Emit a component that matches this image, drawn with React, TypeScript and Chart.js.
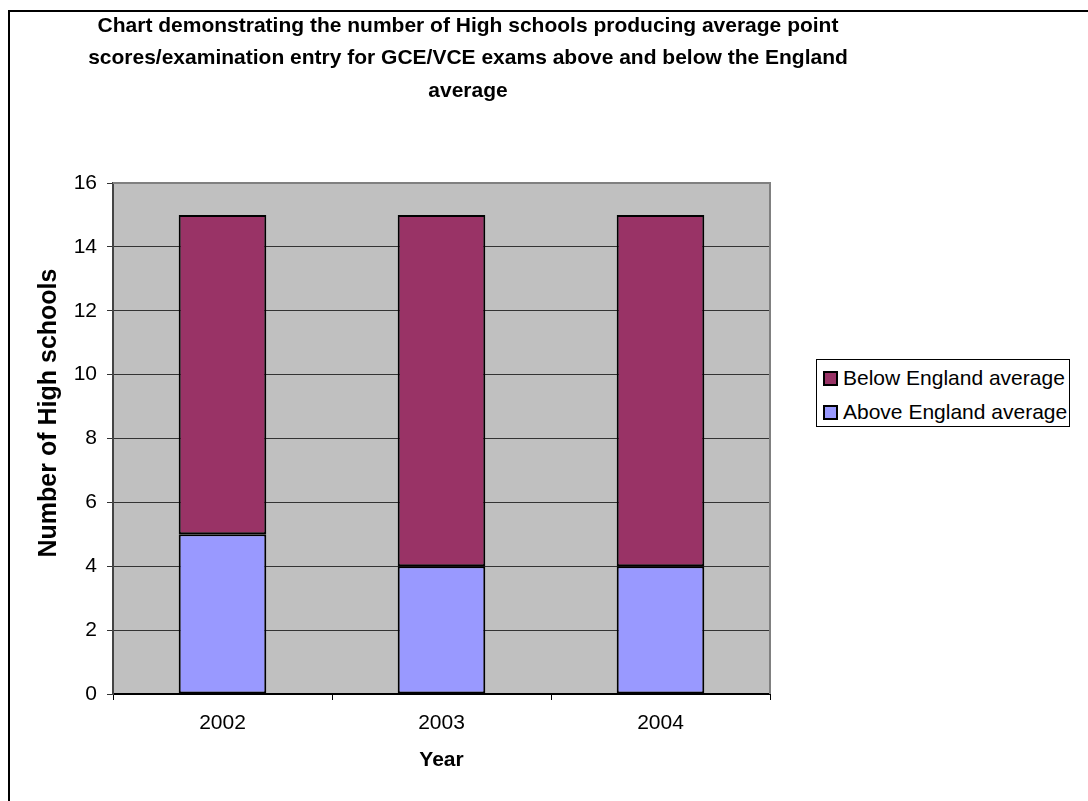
import React, { useEffect, useRef } from "react";
import { Chart, registerables } from "chart.js";

Chart.register(...registerables);

const years = ["2002", "2003", "2004"];
const aboveAverage = [5, 4, 4];
const belowAverage = [10, 11, 11];
const seriesLabels = ["Above England average", "Below England average"];
const seriesColors = ["#9999FF", "#993366"];
const titleLines = [
  "Chart demonstrating the number of High schools producing average point",
  "scores/examination entry for GCE/VCE exams above and below the England",
  "average",
];
const yAxisTitle = "Number of High schools";
const xAxisTitle = "Year";
const yMin = 0;
const yMax = 16;
const yStep = 2;

const FONT = "'Liberation Sans', Arial, sans-serif";

const textPlugin = {
  id: "textPlugin",
  beforeDraw(chart: any) {
    const { ctx, chartArea } = chart;
    ctx.save();
    ctx.fillStyle = "#C0C0C0";
    ctx.fillRect(chartArea.left, chartArea.top, chartArea.right - chartArea.left, chartArea.bottom - chartArea.top);
    ctx.restore();
  },
  afterDraw(chart: any) {
    const { ctx, chartArea } = chart;
    ctx.save();
    // plot area border (top and right)
    ctx.strokeStyle = "#808080";
    ctx.lineWidth = 2;
    ctx.beginPath();
    ctx.moveTo(chartArea.left, chartArea.top);
    ctx.lineTo(chartArea.right, chartArea.top);
    ctx.lineTo(chartArea.right, chartArea.bottom);
    ctx.stroke();
    // main title
    ctx.fillStyle = "#000";
    ctx.font = `bold 21px ${FONT}`;
    ctx.textAlign = "center";
    ctx.textBaseline = "middle";
    titleLines.forEach((line, i) => {
      ctx.fillText(line, 468, 26 + i * 32.5);
    });
    // y axis title
    ctx.translate(49, 413);
    ctx.rotate(-Math.PI / 2);
    ctx.font = `bold 25px ${FONT}`;
    ctx.fillText(yAxisTitle, 0, 0);
    ctx.restore();
  },
};

export default function App() {
  const canvasRef = useRef<HTMLCanvasElement | null>(null);

  useEffect(() => {
    if (!canvasRef.current) return;
    const chart = new Chart(canvasRef.current, {
      type: "bar",
      data: {
        labels: years,
        datasets: [
          {
            label: seriesLabels[0],
            data: aboveAverage,
            backgroundColor: seriesColors[0],
            borderColor: "#000",
            borderWidth: 2,
            borderSkipped: false,
            barPercentage: 0.4,
            categoryPercentage: 1,
          },
          {
            label: seriesLabels[1],
            data: belowAverage,
            backgroundColor: seriesColors[1],
            borderColor: "#000",
            borderWidth: 2,
            borderSkipped: false,
            barPercentage: 0.4,
            categoryPercentage: 1,
          },
        ],
      },
      options: {
        animation: false,
        responsive: false,
        maintainAspectRatio: false,
        layout: { padding: { left: 0, top: 183, right: 318, bottom: 0 } },
        plugins: {
          legend: { display: false },
          tooltip: { enabled: false },
          title: { display: false },
        },
        scales: {
          x: {
            stacked: true,
            afterFit: (s: any) => {
              s.height = 107;
            },
            grid: {
              offset: true,
              drawOnChartArea: false,
              drawTicks: true,
              tickLength: 6,
              color: "#000",
              lineWidth: 1,
            },
            border: { display: true, color: "#000", width: 2 },
            ticks: {
              color: "#000",
              font: { family: FONT, size: 21 },
              padding: 11,
            },
            title: {
              display: true,
              text: xAxisTitle,
              color: "#000",
              font: { family: FONT, size: 21, weight: "bold" },
              padding: { top: 0, bottom: 28 },
            },
          },
          y: {
            stacked: true,
            min: yMin,
            max: yMax,
            afterFit: (s: any) => {
              s.width = 113;
            },
            ticks: {
              stepSize: yStep,
              color: "#000",
              font: { family: FONT, size: 21 },
              padding: 10,
            },
            grid: {
              color: "#333",
              lineWidth: 1,
              drawTicks: true,
              tickLength: 6,
            },
            border: { display: true, color: "#444", width: 2 },
          },
        },
      },
      plugins: [textPlugin],
    });
    return () => chart.destroy();
  }, []);

  const legendOrder = [1, 0];

  return (
    <div
      style={{
        position: "fixed",
        left: 0,
        top: 0,
        width: 1088,
        height: 801,
        overflow: "hidden",
        background: "#fff",
      }}
    >
      <div
        style={{
          position: "absolute",
          left: 8,
          top: 10,
          width: 1300,
          height: 1000,
          borderLeft: "2px solid #000",
          borderTop: "2px solid #000",
        }}
      />
      <canvas
        ref={canvasRef}
        width={1088}
        height={801}
        style={{ position: "absolute", left: 0, top: 0, width: 1088, height: 801 }}
      />
      <div
        style={{
          position: "absolute",
          left: 816,
          top: 359,
          width: 252,
          height: 66,
          border: "1px solid #000",
          background: "#fff",
          fontFamily: FONT,
          fontSize: 21,
          color: "#000",
        }}
      >
        {legendOrder.map((idx, row) => (
          <div
            key={idx}
            style={{
              position: "absolute",
              left: 6,
              top: 6 + row * 34,
              height: 24,
              display: "flex",
              alignItems: "center",
              whiteSpace: "nowrap",
            }}
          >
            <span
              style={{
                display: "inline-block",
                width: 11,
                height: 11,
                border: "2px solid #000",
                background: seriesColors[idx],
                marginRight: 5,
              }}
            />
            <span>{seriesLabels[idx]}</span>
          </div>
        ))}
      </div>
    </div>
  );
}
